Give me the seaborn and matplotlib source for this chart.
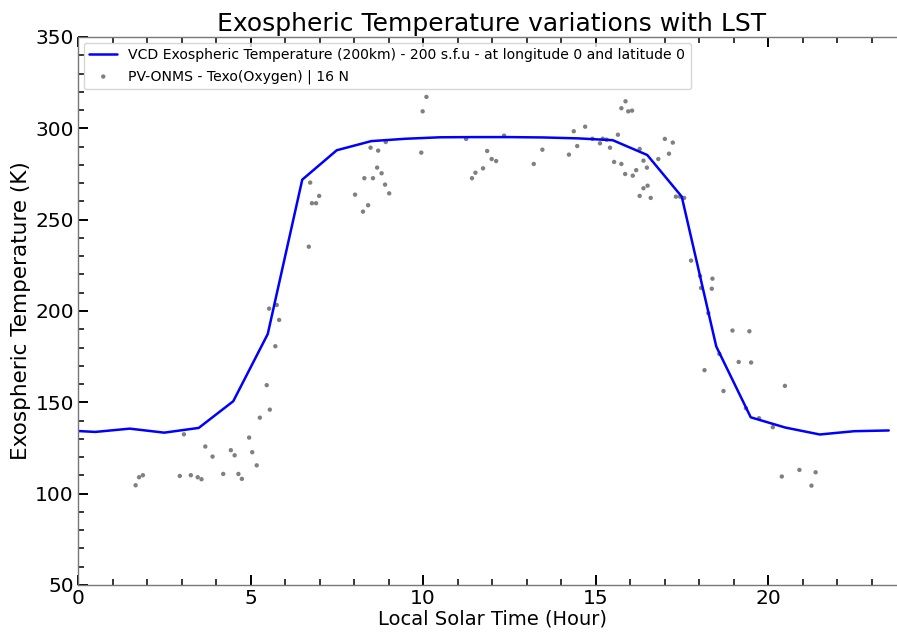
import numpy as np
import pandas as pd
import matplotlib
matplotlib.use("Agg")
import matplotlib.pyplot as plt
import seaborn as sns
from matplotlib.ticker import MultipleLocator

# ---- data ----
lst_model = [0.0, 0.5, 1.5, 2.5, 3.5, 4.5, 5.5, 6.5, 7.5, 8.5, 9.5, 10.5, 11.5, 12.5,
             13.5, 14.5, 15.5, 16.5, 17.5, 18.5, 19.5, 20.5, 21.5, 22.5, 23.5]
temp_model = [134.3, 133.8, 135.6, 133.4, 136.0, 150.6, 187.4, 271.9, 288.0, 293.0, 294.3,
              295.1, 295.2, 295.2, 295.0, 294.5, 293.5, 285.4, 262.6, 180.6, 141.8, 136.2,
              132.4, 134.2, 134.6]

lst_obs = [1.67, 1.77, 1.88, 2.95, 3.07, 3.27, 3.47, 3.58, 3.69, 3.90, 4.21, 4.43, 4.54,
           4.65, 4.75, 4.96, 5.05, 5.18, 5.27, 5.47, 5.56, 5.54, 5.76, 5.83, 5.72,
           6.69, 6.73, 6.99, 6.78, 6.90, 8.03, 8.26, 8.41, 8.30, 8.55, 8.67, 8.80, 8.90,
           9.02, 8.48, 8.70, 8.92, 9.95, 9.99, 10.10, 11.25, 11.42, 11.52, 11.74, 11.86,
           11.99, 12.12, 12.35, 13.21, 13.46, 14.23, 14.37, 14.47, 14.70, 14.91, 15.13,
           15.21, 15.32, 15.42, 15.54, 15.65, 15.75, 15.87, 15.95, 16.06, 15.75, 15.86,
           16.08, 16.18, 16.28, 16.39, 16.49, 16.39, 16.51, 16.28, 16.60, 16.82, 17.01,
           17.24, 17.13, 17.33, 17.45, 17.57, 17.77, 18.03, 18.39, 18.06, 18.37, 18.27,
           18.97, 19.46, 18.59, 19.15, 19.51, 18.16, 18.71, 20.49, 19.36, 19.74, 20.14,
           20.91, 20.40, 21.38, 21.26]
temp_obs = [104.6, 109.0, 110.1, 109.7, 132.5, 110.1, 109.0, 107.9, 125.8, 120.3, 110.8,
            123.8, 121.0, 110.8, 108.1, 130.7, 122.7, 115.5, 141.6, 159.4, 146.0, 201.3,
            203.3, 195.1, 180.7, 235.2, 270.3, 263.0, 259.0, 259.0, 263.7, 254.4, 257.9,
            272.7, 272.7, 278.5, 275.4, 269.2, 264.4, 289.4, 287.8, 292.5, 286.7, 309.3,
            317.2, 294.2, 272.7, 275.7, 278.1, 287.6, 283.2, 282.1, 296.0, 280.5, 288.3,
            285.6, 298.4, 290.3, 300.9, 294.3, 291.8, 294.3, 293.8, 289.4, 281.6, 296.5,
            311.0, 314.8, 309.3, 309.7, 280.5, 275.0, 274.1, 277.1, 288.7, 282.3, 278.5,
            267.2, 268.6, 263.0, 261.9, 283.2, 294.2, 292.2, 286.1, 262.6, 262.6, 261.9,
            227.6, 219.2, 217.7, 212.6, 212.2, 198.8, 189.3, 188.9, 176.5, 172.1, 171.8,
            167.6, 156.2, 159.0, 146.8, 141.3, 136.4, 113.0, 109.4, 111.7, 104.4]

model_label = "VCD Exospheric Temperature (200km) - 200 s.f.u - at longitude 0 and latitude 0"
obs_label = "PV-ONMS - Texo(Oxygen) | 16 N"
title = "Exospheric Temperature variations with LST"
xlabel = "Local Solar Time (Hour)"
ylabel = "Exospheric Temperature (K)"

df_model = pd.DataFrame({"lst": lst_model, "temp": temp_model})
df_obs = pd.DataFrame({"lst": lst_obs, "temp": temp_obs})

sns.set_style("white")
plt.rcParams["font.family"] = ["DejaVu Sans"]
plt.rcParams["text.color"] = "black"
plt.rcParams["axes.labelcolor"] = "black"
plt.rcParams["xtick.color"] = "black"
plt.rcParams["ytick.color"] = "black"

fig = plt.figure(figsize=(8.97, 6.33), dpi=100)
ax = fig.add_axes([78 / 897, 48 / 633, (906 - 78) / 897, (585 - 37) / 633])

sns.lineplot(data=df_model, x="lst", y="temp", ax=ax, color="blue", linewidth=1.8,
             label=model_label, sort=False)
sns.scatterplot(data=df_obs, x="lst", y="temp", ax=ax, color="gray", s=10,
                edgecolor="none", label=obs_label)

ax.set_xlim(0, 24)
ax.set_ylim(50, 350)
ax.xaxis.set_major_locator(MultipleLocator(5))
ax.xaxis.set_minor_locator(MultipleLocator(1))
ax.yaxis.set_major_locator(MultipleLocator(50))
ax.yaxis.set_minor_locator(MultipleLocator(10))
ax.tick_params(which="both", direction="in", bottom=True, left=True, top=True,
               right=False, color="black", labelcolor="black")
ax.tick_params(which="major", length=7, width=1.4, labelsize=14.5, pad=3)
ax.tick_params(which="minor", length=4.5, width=1.1)
for s in ax.spines.values():
    s.set_color("#777777")
    s.set_linewidth(1.0)

ax.set_title(title, fontsize=18, pad=4, color="black")
ax.set_xlabel(xlabel, fontsize=14, labelpad=1, color="black")
ax.set_ylabel(ylabel, fontsize=15.5, labelpad=3, color="black")
leg = ax.legend(loc="upper left", fontsize=10.1, markerscale=1.0, borderaxespad=0.4)
for t in leg.get_texts():
    t.set_color("black")

fig.savefig("out.png", dpi=100)
